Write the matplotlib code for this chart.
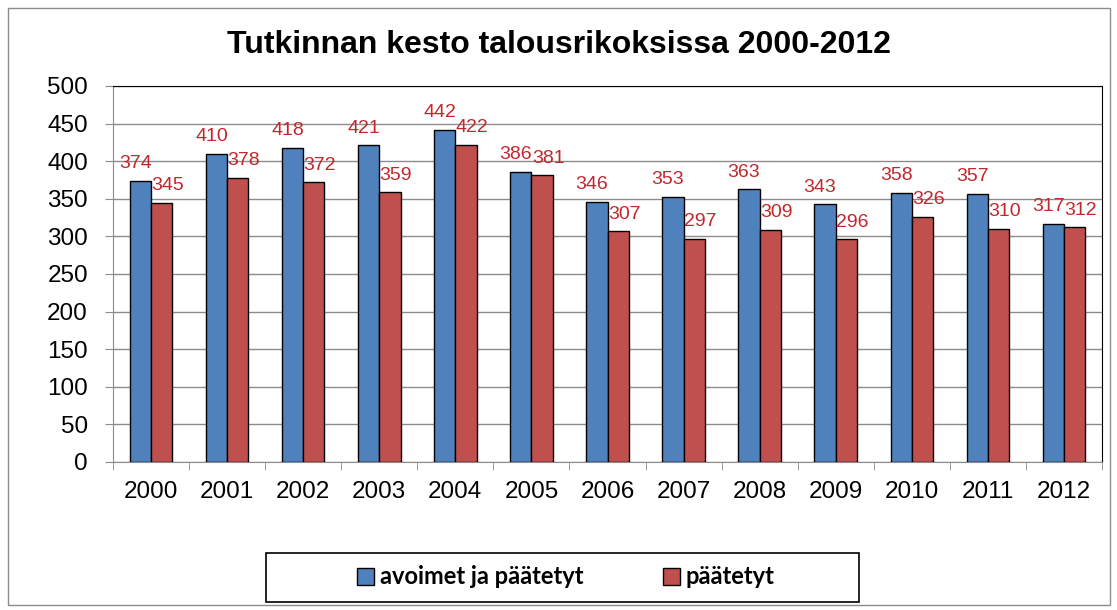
import numpy as np
import matplotlib.pyplot as plt
from matplotlib.patches import Rectangle

# Data
years = ['2000', '2001', '2002', '2003', '2004', '2005', '2006',
         '2007', '2008', '2009', '2010', '2011', '2012']
avoimet = [374, 410, 418, 421, 442, 386, 346, 353, 363, 343, 358, 357, 317]
paatetyt = [345, 378, 372, 359, 422, 381, 307, 297, 309, 296, 326, 310, 312]

blue = '#4F81BD'
red = '#C0504D'
label_red = '#C0282D'

plt.rcParams['font.family'] = ['Liberation Sans', 'DejaVu Sans']

fig = plt.figure(figsize=(11.17, 6.10), dpi=100)
W, H = 1117, 610

# outer chart border
fig.patches.append(Rectangle((8 / W, 5 / H), 1102 / W, 597 / H,
                             transform=fig.transFigure, fill=False,
                             edgecolor='#8c8c8c', linewidth=1.0))

ax = fig.add_axes([113 / W, 1 - 462 / H, (1102 - 113) / W, (462 - 86) / H])

x = np.arange(len(years))
bw = 0.28
bars1 = ax.bar(x - bw / 2, avoimet, bw, color=blue, edgecolor='black',
               linewidth=1.0, label='avoimet ja päätetyt', zorder=3)
bars2 = ax.bar(x + bw / 2, paatetyt, bw, color=red, edgecolor='black',
               linewidth=1.0, label='päätetyt', zorder=3)

for b, v in zip(bars1, avoimet):
    ax.annotate(str(v), (b.get_x() + b.get_width() / 2, v),
                xytext=(-5, 17), textcoords='offset pixels',
                ha='center', va='center', fontsize=14, color=label_red)
for b, v in zip(bars2, paatetyt):
    ax.annotate(str(v), (b.get_x() + b.get_width() / 2, v),
                xytext=(6, 17), textcoords='offset pixels',
                ha='center', va='center', fontsize=14, color=label_red)

ax.set_xlim(-0.5, len(years) - 0.5)
ax.set_ylim(0, 500)
ax.set_yticks(np.arange(0, 501, 50))
ax.yaxis.grid(True, color='#8c8c8c', linewidth=1.0, zorder=0)
ax.set_axisbelow(True)

ax.set_xticks(x)
ax.set_xticklabels(years)
ax.set_xticks(np.arange(-0.5, len(years), 1), minor=True)
ax.tick_params(axis='x', which='major', length=0, pad=14, labelsize=17.5)
ax.tick_params(axis='x', which='minor', length=6, color='#8c8c8c')
ax.tick_params(axis='y', length=6, color='#8c8c8c', pad=12, labelsize=17.5)

for side in ['top', 'right']:
    ax.spines[side].set_color('black')
ax.spines['left'].set_color('#8c8c8c')
ax.spines['bottom'].set_color('#8c8c8c')

fig.text(0.5, 1 - 45 / H, 'Tutkinnan kesto talousrikoksissa 2000-2012',
         ha='center', va='center', fontsize=23, fontweight='bold')

# legend box
fig.patches.append(Rectangle((266 / W, 1 - 602 / H), (859 - 266) / W, 49 / H,
                             transform=fig.transFigure, fill=False,
                             edgecolor='black', linewidth=1.2))
fig.legend(handles=[bars1, bars2], loc='center',
           bbox_to_anchor=(566 / W, 1 - 577 / H), ncol=2, frameon=False,
           prop={'family': 'Lato', 'size': 17, 'weight': 'bold'},
           handlelength=0.7, handleheight=0.7, handletextpad=0.25,
           columnspacing=3.4)

fig.savefig('out.png', dpi=100)
